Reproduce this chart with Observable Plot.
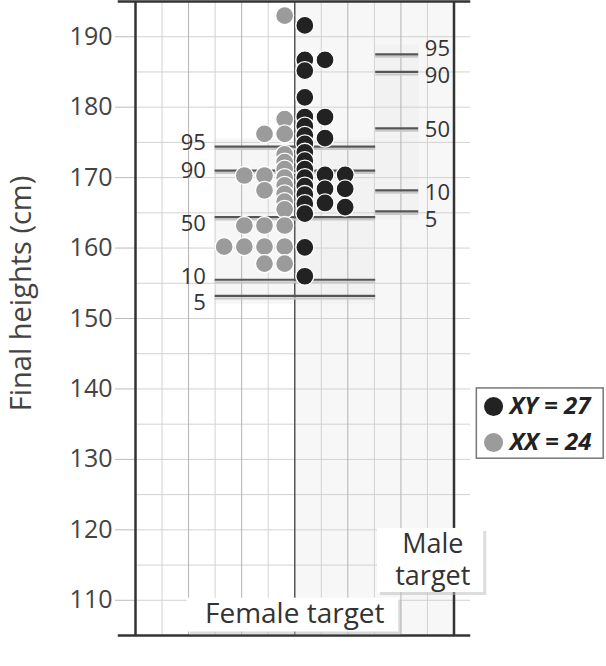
<!DOCTYPE html>
<html><head><meta charset="utf-8">
<script src="https://cdn.jsdelivr.net/npm/d3@7"></script>
<script src="https://cdn.jsdelivr.net/npm/@observablehq/plot@0.6"></script>
<style>body{margin:0;background:#fff} #chart svg{display:block}</style>
</head><body><div id="chart"></div>
<script>
// ---- data: final heights (cm), one array per dot-plot column ----
const xyCol1 = [191.6, 186.7, 185.2, 181.4, 178.6, 177.3, 176.0, 174.8, 173.6, 172.4, 171.2, 170.0, 168.8, 167.6, 166.3, 164.9, 160.1, 156.0];
const xyCol2 = [186.7, 178.6, 175.6, 170.4, 168.4, 166.4];
const xyCol3 = [170.4, 168.4, 165.8];
const xxCol1 = [193.0, 178.3, 176.2, 173.3, 172.2, 171.2, 170.0, 168.9, 167.7, 166.6, 165.5, 163.2, 160.2, 157.8];
const xxCol2 = [176.2, 170.3, 168.2, 163.2, 160.2, 157.8];
const xxCol3 = [170.3, 163.2, 160.2];
const xxCol4 = [160.2];
const yTicks = [110, 120, 130, 140, 150, 160, 170, 180, 190];
const pctLabels = ["95", "90", "50", "10", "5"];
const femaleTarget = [174.4, 171.0, 164.4, 155.5, 153.2];
const maleTarget = [187.5, 185.0, 177.0, 168.2, 165.2];
const seriesNames = ["XY", "XX"];
const targetNames = ["Female target", "Male\ntarget"];
const axisTitle = "Final heights (cm)";

// ---- layout ----
const STEP = 0.76;
const femaleLabelShift = [-3.5, 0, 6.5, -3, 7];
const maleLabelShift = [-5, 4, 2, 3, 9];
const toDots = (cols, sign) => cols.flatMap((a, i) => a.map(h => ({h, col: sign * (i + 0.5)})));
const xyDots = toDots([xyCol1, xyCol2, xyCol3], 1);
const xxDots = toDots([xxCol1, xxCol2, xxCol3, xxCol4], -1);
const femalePct = pctLabels.map((l, i) => ({l, h: femaleTarget[i]}));
const malePct = pctLabels.map((l, i) => ({l, h: maleTarget[i]}));
const legend = [
  {t: `${seriesNames[0]} = ${xyDots.length}`, c: "#222", y: 137.5},
  {t: `${seriesNames[1]} = ${xxDots.length}`, c: "#9b9b9b", y: 132.4}
];
const ink = "#333";

const svg = Plot.plot({
  width: 606, height: 666,
  marginLeft: 135, marginRight: 152.5, marginTop: 1, marginBottom: 31,
  x: {domain: [-6, 6], axis: null},
  y: {domain: [105, 195], axis: null},
  style: {fontFamily: "'Open Sans'", background: "#fff", overflow: "visible"},
  marks: [
    Plot.rect([0], {x1: 0, x2: 6, y1: 105, y2: 195, fill: "#f7f7f7"}),
    Plot.rect([0], {x1: -3.0, x2: 3.05, y1: 152, y2: 175.5, fill: "#eeeeee", fillOpacity: 0.55}),
    Plot.rect([0], {x1: 3.05, x2: 4.7, y1: 164, y2: 188.8, fill: "#eeeeee", fillOpacity: 0.55}),
    // grid
    Plot.ruleY(d3.range(105, 196, 5), {x1: -6, x2: 6.63, stroke: "#d2d2d2", strokeWidth: 1}),
    Plot.ruleX([-5, -3, -1, 1, 3, 5], {y1: 105, y2: 195, stroke: "#d2d2d2", strokeWidth: 1}),
    Plot.ruleX([-4, -2, 2, 4], {y1: 105, y2: 195, stroke: "#b4b4b4", strokeWidth: 1}),
    // axis
    Plot.axisY(yTicks, {anchor: "left", tickSize: 20, tickPadding: 3, stroke: "#bbb", fill: "#444", fontSize: 25, label: null}),
    Plot.text([axisTitle], {frameAnchor: "left", text: d => d, rotate: -90, textAnchor: "middle", dx: -114, dy: -25, fontSize: 29, fill: "#444"}),
    // frame
    Plot.ruleX([0], {y1: 105, y2: 195, stroke: "#555", strokeWidth: 1.5}),
    Plot.ruleX([-6, 6], {y1: 105, y2: 195, stroke: "#333", strokeWidth: 2.5}),
    Plot.ruleY([105, 195], {x1: -6.65, x2: 6.63, stroke: "#333", strokeWidth: 2.5}),
    // target percentile lines
    Plot.ruleY(femaleTarget, {x1: -3.0, x2: 3.05, dy: 2.5, stroke: "#c8c8c8", strokeWidth: 2}),
    Plot.ruleY(maleTarget, {x1: 3.05, x2: 4.67, dy: 2.5, stroke: "#c8c8c8", strokeWidth: 2}),
    Plot.ruleY(femaleTarget, {x1: -3.0, x2: 3.05, stroke: "#555", strokeWidth: 2.2}),
    Plot.ruleY(maleTarget, {x1: 3.05, x2: 4.67, stroke: "#555", strokeWidth: 2.2}),
    ...femalePct.map((d, i) => Plot.text([d], {x: -3.35, y: "h", text: "l", dy: femaleLabelShift[i], textAnchor: "end", fontSize: 22, fill: ink})),
    ...malePct.map((d, i) => Plot.text([d], {x: 4.9, y: "h", text: "l", dy: maleLabelShift[i], textAnchor: "start", fontSize: 22, fill: ink})),
    // dots
    Plot.dot(xxDots, {x: d => d.col * STEP, y: "h", r: 9, fill: "#9b9b9b", stroke: "#fff", strokeWidth: 1.3}),
    Plot.dot(xyDots, {x: d => d.col * STEP, y: "h", r: 9, fill: "#222", stroke: "#fff", strokeWidth: 1.3}),
    // legend
    Plot.rect([0], {x1: 6.86, x2: 11.64, y1: 130.1, y2: 140.07, fill: "#fff", stroke: "#777", strokeWidth: 1.5}),
    Plot.dot(legend, {x: 7.49, y: "y", r: 9.5, fill: "c"}),
    Plot.text(legend, {x: 8.1, y: "y", text: "t", textAnchor: "start", fontSize: 24, fontWeight: "bold", fontStyle: "italic", fill: "#222"}),
    // target boxes
    Plot.rect([0], {x1: -4.05, x2: 3.92, y1: 105.5, y2: 110.3, dx: 3, dy: 3, fill: "#bbb", fillOpacity: 0.5}),
    Plot.rect([0], {x1: -4.05, x2: 3.92, y1: 105.5, y2: 110.3, fill: "#fff"}),
    Plot.rect([0], {x1: 3.12, x2: 7.12, y1: 111.1, y2: 120.2, dx: 3, dy: 3, fill: "#bbb", fillOpacity: 0.5}),
    Plot.rect([0], {x1: 3.12, x2: 7.12, y1: 111.1, y2: 120.2, fill: "#fff"}),
    Plot.text([targetNames[0]], {x: 0, y: 108.1, text: d => d, fontSize: 28, fill: ink}),
    Plot.text([targetNames[1]], {x: 5.2, y: 115.9, text: d => d, fontSize: 27, lineHeight: 1.2, fill: ink})
  ]
});
document.getElementById("chart").appendChild(svg);
</script>
</body></html>
